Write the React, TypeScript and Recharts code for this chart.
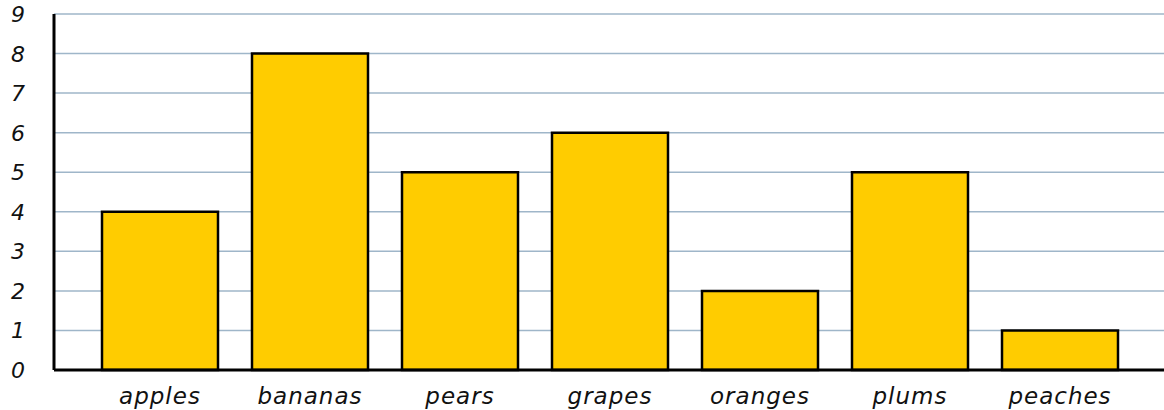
import React from "react";
import { BarChart, Bar, XAxis, YAxis, CartesianGrid } from "recharts";

const FRUITS = ["apples", "bananas", "pears", "grapes", "oranges", "plums", "peaches"];
const COUNTS = [4, 8, 5, 6, 2, 5, 1];
const Y_TICKS = [0, 1, 2, 3, 4, 5, 6, 7, 8, 9];

const FONT = "'DejaVu Sans', sans-serif";

const YTick = (props: any) => {
  const { y, payload } = props;
  return (
    <text x={18} y={y} dy={8} textAnchor="middle" fontFamily={FONT} fontStyle="italic" fontSize={22} fill="#111">
      {payload.value}
    </text>
  );
};

const XTick = (props: any) => {
  const { x, y, payload } = props;
  return (
    <text x={x} y={y} dy={26} textAnchor="middle" fontFamily={FONT} fontStyle="italic" fontSize={23} letterSpacing={1} fill="#111">
      {payload.value}
    </text>
  );
};

export default function App() {
  const data = FRUITS.map((name, i) => ({ name, value: COUNTS[i] }));

  return (
    <div style={{ position: "absolute", left: 0, top: 0, background: "#fff" }}>
      <BarChart width={1164} height={410} data={data} margin={{ top: 14, right: 0, bottom: 0, left: 0 }}>
        <CartesianGrid vertical={false} stroke="#9fb6c9" strokeWidth={1.5} />
        <XAxis
          dataKey="name"
          height={40}
          padding={{ left: 31, right: 29 }}
          axisLine={{ stroke: "#000", strokeWidth: 3 }}
          tickLine={false}
          tick={<XTick />}
          interval={0}
        />
        <YAxis
          width={54}
          domain={[0, 9]}
          ticks={Y_TICKS}
          interval={0}
          axisLine={{ stroke: "#000", strokeWidth: 3 }}
          tickLine={false}
          tick={<YTick />}
        />
        <Bar dataKey="value" fill="#ffcc00" stroke="#000" strokeWidth={2.5} barSize={116} isAnimationActive={false} />
      </BarChart>
    </div>
  );
}
